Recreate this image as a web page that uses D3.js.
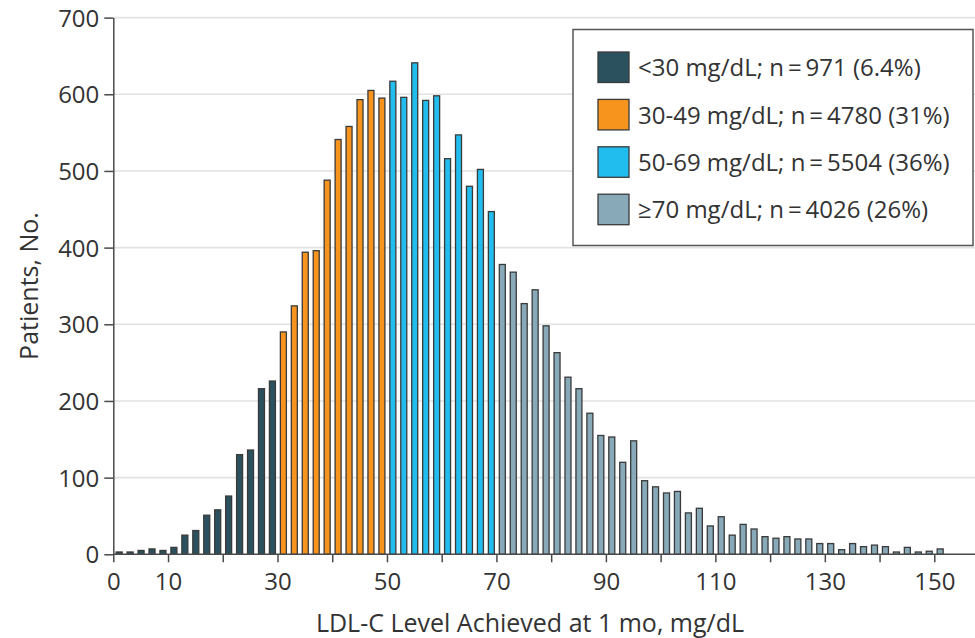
<!DOCTYPE html>
<html>
<head>
<meta charset="utf-8">
<script src="https://cdn.jsdelivr.net/npm/d3@7"></script>
<style>
  html, body { margin: 0; padding: 0; background: #fff; }
  svg { display: block; font-family: "Open Sans", "Noto Sans", sans-serif; }
</style>
</head>
<body>
<svg id="chart" width="975" height="638"></svg>
<script>
// Patient counts per 2 mg/dL bin of LDL-C achieved at 1 month
const binWidth = 2;
const countsBelow30 = [3, 3, 5, 7, 5, 9, 25, 31, 51, 58, 76, 130, 136, 216, 226];
const counts30to49 = [290, 324, 394, 396, 488, 541, 558, 593, 605, 595];
const counts50to69 = [617, 596, 641, 592, 598, 516, 547, 480, 502, 447];
const counts70plus = [378, 368, 327, 345, 298, 263, 231, 216, 184, 155, 153, 120, 148, 96, 88,
  80, 82, 54, 60, 37, 49, 25, 39, 33, 23, 21, 23, 20, 20, 14, 14, 6, 14, 10, 12, 10, 3, 9, 3, 4, 7];

const groupStarts = [0, 30, 50, 70];
const groupColors = ["#2c515e", "#f7941d", "#22bdef", "#87a9b8"];
const legendLabels = [
  "<30 mg/dL; n\u2009=\u2009971 (6.4%)",
  "30-49 mg/dL; n\u2009=\u20094780 (31%)",
  "50-69 mg/dL; n\u2009=\u20095504 (36%)",
  "\u226570 mg/dL; n\u2009=\u20094026 (26%)"
];
const xTickValues = [0, 10, 20, 30, 40, 50, 60, 70, 80, 90, 100, 110, 120, 130, 140, 150];
const xTickLabels = [0, 10, 30, 50, 70, 90, 110, 130, 150];
const yTickValues = [0, 100, 200, 300, 400, 500, 600, 700];

const groups = [countsBelow30, counts30to49, counts50to69, counts70plus];
const bins = [];
groups.forEach((counts, gi) => {
  counts.forEach((n, i) => {
    bins.push({ start: groupStarts[gi] + i * binWidth, count: n, group: gi });
  });
});

const svg = d3.select("#chart");
const W = 975;
const textColor = "#333";
const axisColor = "#4a4a4a";

const x = d3.scaleLinear().domain([0, 150]).range([113.3, 934.3]);
const y = d3.scaleLinear().domain([0, 700]).range([554.3, 17.6]);

// horizontal grid
svg.append("g")
  .selectAll("line")
  .data(yTickValues.filter(v => v > 0))
  .join("line")
  .attr("x1", x(0)).attr("x2", W)
  .attr("y1", d => y(d)).attr("y2", d => y(d))
  .attr("stroke", "#e2e2e2").attr("stroke-width", 1.6);

// bars
const barW = 6.0;
svg.append("g")
  .selectAll("rect")
  .data(bins)
  .join("rect")
  .attr("x", d => x(d.start + binWidth / 2) - barW / 2 + 0.4)
  .attr("y", d => y(d.count))
  .attr("width", barW)
  .attr("height", d => y(0) - y(d.count))
  .attr("fill", d => groupColors[d.group])
  .attr("stroke", "#3a3a3a")
  .attr("stroke-width", 1.3);

// y axis
const yAxis = svg.append("g")
  .attr("transform", `translate(${x(0)},0)`)
  .call(d3.axisLeft(y).tickValues(yTickValues).tickSize(9).tickSizeOuter(0).tickPadding(5));
yAxis.select(".domain").attr("stroke", axisColor).attr("stroke-width", 1.5);
yAxis.selectAll(".tick line").attr("stroke", axisColor).attr("stroke-width", 1.5);
yAxis.selectAll(".tick text")
  .attr("fill", textColor).attr("font-size", 24).attr("font-family", "Open Sans")
  .attr("dy", "0.36em");

// x axis
const xAxis = svg.append("g")
  .attr("transform", `translate(0,${y(0)})`)
  .call(d3.axisBottom(x).tickValues(xTickValues).tickSize(8).tickSizeOuter(0)
    .tickFormat(d => xTickLabels.includes(d) ? d : ""));
xAxis.select(".domain").remove();
xAxis.append("line")
  .attr("x1", x(0)).attr("x2", W).attr("y1", 0).attr("y2", 0)
  .attr("stroke", axisColor).attr("stroke-width", 1.5);
xAxis.selectAll(".tick line").attr("stroke", axisColor).attr("stroke-width", 1.5);
xAxis.selectAll(".tick text")
  .attr("fill", textColor).attr("font-size", 24).attr("font-family", "Open Sans")
  .attr("y", 36).attr("dy", 0);

// axis titles
svg.append("text")
  .attr("x", 530).attr("y", 632)
  .attr("text-anchor", "middle")
  .attr("fill", textColor).attr("font-size", 25)
  .text("LDL-C Level Achieved at 1 mo, mg/dL");

svg.append("text")
  .attr("transform", "translate(38,286) rotate(-90)")
  .attr("text-anchor", "middle")
  .attr("fill", textColor).attr("font-size", 25)
  .text("Patients, No.");

// legend
const legend = svg.append("g");
legend.append("rect")
  .attr("x", 573).attr("y", 29.5).attr("width", 400).attr("height", 216)
  .attr("fill", "#fff").attr("stroke", "#555").attr("stroke-width", 1.5);
const rows = legend.selectAll("g.row")
  .data(legendLabels)
  .join("g")
  .attr("class", "row")
  .attr("transform", (d, i) => `translate(598,${52 + i * 47.4})`);
rows.append("rect")
  .attr("width", 31).attr("height", 30.5)
  .attr("fill", (d, i) => groupColors[i])
  .attr("stroke", "#3a3a3a").attr("stroke-width", 1.3);
rows.append("text")
  .attr("x", 40).attr("y", 15.5)
  .attr("dy", "0.36em")
  .attr("fill", textColor).attr("font-size", 24)
  .text(d => d);
</script>
</body>
</html>
